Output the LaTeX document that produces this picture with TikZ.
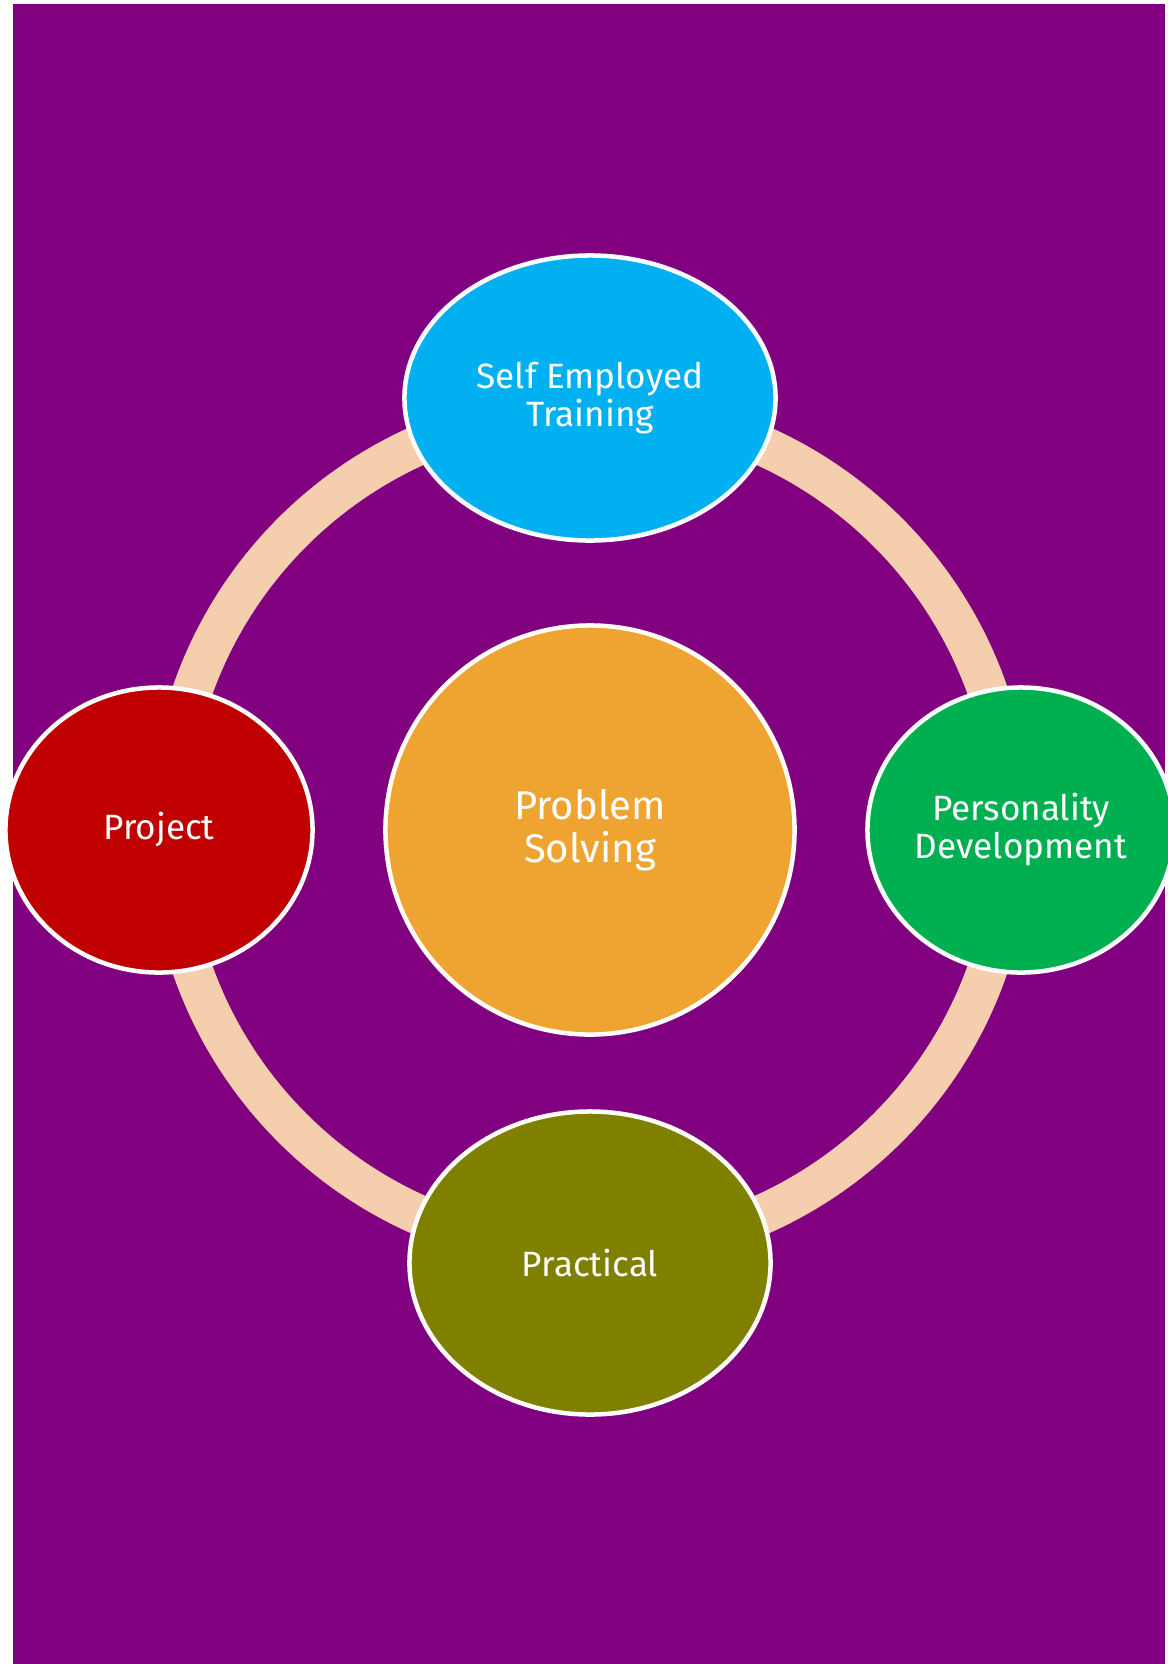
\documentclass[tikz,border=0pt]{standalone}
\usepackage{fontspec}
\setmainfont{Fira Sans}
\usetikzlibrary{shapes.geometric}
\definecolor{bgpurple}{HTML}{800080}
\definecolor{ringpeach}{HTML}{F5CEAD}
\definecolor{selfblue}{HTML}{00B0F0}
\definecolor{coreorange}{HTML}{EFA330}
\definecolor{projred}{HTML}{C00000}
\definecolor{persgreen}{HTML}{00B050}
\definecolor{pracolive}{HTML}{808000}
\tikzset{
  bubble/.style={ellipse, draw=white, line width=0.1125cm, text=white, align=center, inner sep=0pt,
    font=\fontsize{25}{27}\selectfont},
  corebubble/.style={bubble, font=\fontsize{28.5}{30.5}\selectfont},
}
\begin{document}
\begin{tikzpicture}[x=0.025cm, y=-0.025cm]
			%%%%% START %%%%%
			\useasboundingbox (0, 0) rectangle (1168, 1664);
			\fill[white] (0, 0) rectangle (1168, 1664);
			\fill[bgpurple] (13, 4) rectangle (1165, 1664);
			
			\coordinate (hub) at (590, 830);
			\draw[ringpeach, line width=1cm] (hub) circle (10.525cm);
			
			\node[corebubble, fill=coreorange, minimum size=10.225cm] (core) at (hub) {Problem\\Solving};
			
			\node[bubble, fill=selfblue, minimum width=9.275cm, minimum height=7.125cm] (self) at (590, 398) {Self Employed\\Training};
			\node[bubble, fill=projred, minimum width=7.675cm, minimum height=7.125cm] (proj) at (159, 830) {Project};
			\node[bubble, fill=persgreen, minimum width=7.675cm, minimum height=7.125cm] (pers) at (1021, 830) {Personality\\Development};
			\node[bubble, fill=pracolive, minimum width=9.025cm, minimum height=7.575cm] (prac) at (590, 1263) {Practical};
			%%%%% END %%%%%
\end{tikzpicture}
\end{document}
